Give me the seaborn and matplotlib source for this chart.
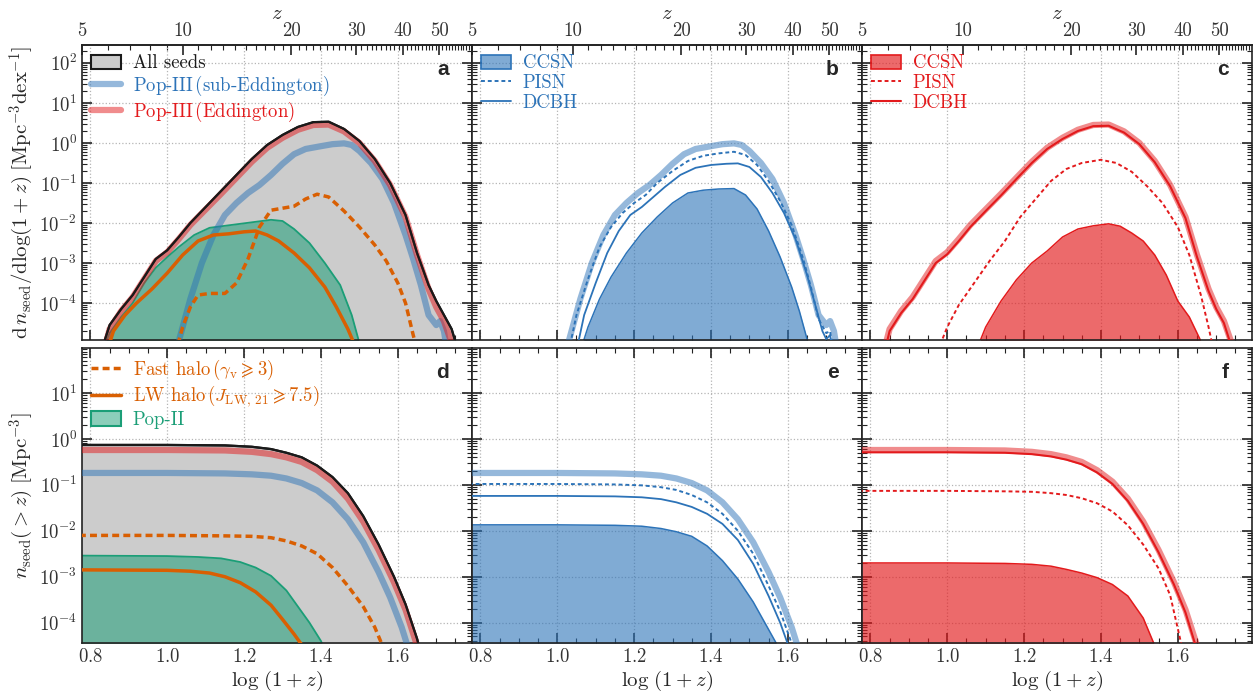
import numpy as np
import matplotlib
matplotlib.use('Agg')
import matplotlib.pyplot as plt
import seaborn as sns
from matplotlib.ticker import FixedLocator, LogLocator, NullFormatter, MultipleLocator
from matplotlib.lines import Line2D
from matplotlib.patches import Patch
from matplotlib.colors import to_rgba

# ---- data: log10 of densities ----
# differential seed density, d n / d log(1+z)
x_tot_dn = [0.835, 0.85, 0.88, 0.91, 0.94, 0.97, 1.00, 1.03, 1.06, 1.10, 1.14, 1.18, 1.22, 1.26, 1.30,
            1.34, 1.38, 1.42, 1.46, 1.50, 1.54, 1.58, 1.62, 1.65, 1.68, 1.70, 1.72, 1.74, 1.76]
all_dn = [-5.0, -4.55, -4.15, -3.8, -3.35, -2.9, -2.68, -2.35, -2.0, -1.6, -1.2, -0.8, -0.4, -0.05, 0.2,
          0.4, 0.52, 0.53, 0.35, 0.05, -0.4, -1.0, -1.8, -2.75, -3.55, -3.95, -4.3, -4.65, -5.3]
edd_dn = [-5.2, -4.65, -4.2, -3.85, -3.4, -2.95, -2.73, -2.4, -2.05, -1.66, -1.27, -0.87, -0.47, -0.12, 0.13,
          0.33, 0.45, 0.46, 0.29, 0.0, -0.45, -1.05, -1.85, -2.8, -3.65, -4.1, -4.45, -5.0, -5.6]
dcbh_red_dn = [-5.3, -4.7, -4.25, -3.9, -3.45, -3.0, -2.78, -2.45, -2.1, -1.7, -1.31, -0.9, -0.5, -0.15, 0.1,
               0.3, 0.42, 0.43, 0.26, -0.03, -0.48, -1.08, -1.88, -2.85, -3.7, -4.15, -4.5, -5.1, -5.7]

x_sub_dn = [1.02, 1.04, 1.06, 1.09, 1.12, 1.15, 1.18, 1.21, 1.24, 1.27, 1.30, 1.33, 1.36, 1.40, 1.43,
            1.46, 1.48, 1.50, 1.53, 1.56, 1.59, 1.62, 1.64, 1.66, 1.68, 1.70, 1.71, 1.72, 1.73]
sub_dn = [-5.3, -4.6, -3.9, -3.0, -2.3, -1.8, -1.5, -1.25, -1.05, -0.8, -0.52, -0.28, -0.15, -0.08, -0.03,
          -0.01, -0.05, -0.2, -0.5, -0.9, -1.5, -2.3, -2.9, -3.55, -4.3, -4.55, -4.45, -4.7, -5.3]

x_pisn_b_dn = [1.03, 1.05, 1.08, 1.11, 1.14, 1.17, 1.20, 1.23, 1.26, 1.30, 1.34, 1.38, 1.42, 1.46, 1.49,
               1.52, 1.55, 1.58, 1.61, 1.64, 1.66, 1.68, 1.70, 1.71, 1.72]
pisn_b_dn = [-5.2, -4.3, -3.4, -2.6, -2.1, -1.75, -1.5, -1.3, -1.0, -0.7, -0.45, -0.32, -0.26, -0.22, -0.3,
             -0.55, -0.95, -1.45, -2.05, -2.9, -3.6, -4.4, -4.75, -4.7, -5.3]

x_dcbh_b_dn = [1.05, 1.07, 1.10, 1.13, 1.16, 1.19, 1.22, 1.25, 1.28, 1.32, 1.36, 1.40, 1.44, 1.47, 1.50,
               1.53, 1.56, 1.59, 1.62, 1.65, 1.67, 1.69, 1.70, 1.71, 1.72]
dcbh_b_dn = [-5.2, -4.3, -3.5, -2.75, -2.2, -1.8, -1.6, -1.35, -1.1, -0.8, -0.62, -0.55, -0.52, -0.51, -0.6,
             -0.85, -1.25, -1.75, -2.4, -3.3, -4.0, -4.7, -4.9, -4.8, -5.4]

x_ccsn_b_dn = [1.06, 1.08, 1.11, 1.14, 1.18, 1.22, 1.26, 1.30, 1.34, 1.38, 1.42, 1.46, 1.49, 1.52, 1.55,
               1.58, 1.61, 1.63, 1.65, 1.66]
ccsn_b_dn = [-5.2, -4.6, -3.9, -3.35, -2.75, -2.25, -1.85, -1.5, -1.25, -1.18, -1.15, -1.14, -1.3, -1.65, -2.2,
             -2.85, -3.6, -4.2, -4.9, -5.4]

x_pisn_r_dn = [0.975, 1.00, 1.03, 1.07, 1.11, 1.15, 1.19, 1.23, 1.27, 1.31, 1.35, 1.40, 1.44, 1.48, 1.52,
               1.56, 1.60, 1.63, 1.66, 1.68, 1.70]
pisn_r_dn = [-5.2, -4.6, -4.05, -3.5, -2.95, -2.45, -1.85, -1.4, -0.95, -0.65, -0.5, -0.42, -0.5, -0.72, -1.08,
             -1.5, -2.1, -2.8, -3.8, -4.6, -5.5]

x_ccsn_r_dn = [1.075, 1.10, 1.14, 1.18, 1.22, 1.26, 1.30, 1.34, 1.38, 1.42, 1.45, 1.48, 1.51, 1.54, 1.57,
               1.60, 1.63, 1.66, 1.68]
ccsn_r_dn = [-5.2, -4.6, -3.95, -3.42, -3.0, -2.7, -2.35, -2.15, -2.07, -2.02, -2.08, -2.25, -2.45, -2.8, -3.3,
             -3.95, -4.35, -4.95, -5.5]

x_pop2_dn = [0.825, 0.85, 0.88, 0.91, 0.94, 0.97, 1.00, 1.03, 1.07, 1.11, 1.15, 1.19, 1.23, 1.27, 1.30,
             1.33, 1.37, 1.41, 1.45, 1.48, 1.50, 1.52]
pop2_dn = [-5.3, -4.75, -4.35, -4.0, -3.5, -3.12, -2.85, -2.6, -2.3, -2.12, -2.07, -2.02, -1.97, -1.92, -1.95,
           -2.15, -2.5, -3.0, -3.55, -4.3, -5.0, -5.6]

x_lw_dn = [0.84, 0.86, 0.89, 0.92, 0.96, 1.00, 1.04, 1.08, 1.12, 1.16, 1.20, 1.23, 1.26, 1.29, 1.33,
           1.37, 1.41, 1.44, 1.47, 1.49, 1.51]
lw_dn = [-5.3, -4.7, -4.3, -4.0, -3.65, -3.25, -2.8, -2.45, -2.3, -2.27, -2.22, -2.2, -2.3, -2.45, -2.75,
         -3.12, -3.6, -4.1, -4.65, -5.1, -5.6]

x_fast_dn = [1.02, 1.04, 1.06, 1.08, 1.11, 1.15, 1.18, 1.21, 1.24, 1.27, 1.30, 1.33, 1.36, 1.39, 1.42,
             1.46, 1.50, 1.54, 1.57, 1.60, 1.62, 1.64, 1.66]
fast_dn = [-5.3, -4.6, -4.1, -3.8, -3.76, -3.76, -3.5, -2.9, -2.1, -1.68, -1.63, -1.58, -1.4, -1.28, -1.35,
           -1.7, -2.1, -2.55, -2.95, -3.5, -4.0, -4.8, -5.5]

# cumulative seed density, n(>z)
x_cum = [0.77, 1.0, 1.15, 1.22, 1.27, 1.31, 1.35, 1.39, 1.43, 1.47, 1.51, 1.55, 1.59, 1.62, 1.65, 1.67]
all_cum = [-0.13, -0.13, -0.14, -0.17, -0.22, -0.3, -0.4, -0.58, -0.83, -1.18, -1.68, -2.3, -3.0, -3.6, -4.35, -5.0]
edd_cum = [-0.24, -0.24, -0.25, -0.28, -0.33, -0.4, -0.5, -0.68, -0.93, -1.3, -1.8, -2.42, -3.12, -3.72, -4.5, -5.1]
dcbh_r_cum = [-0.29, -0.29, -0.3, -0.33, -0.38, -0.45, -0.55, -0.73, -0.98, -1.35, -1.85, -2.47, -3.17, -3.78, -4.6, -5.2]

x_cum_b = [0.77, 1.0, 1.15, 1.22, 1.27, 1.31, 1.35, 1.39, 1.43, 1.47, 1.51, 1.55, 1.58, 1.61, 1.64, 1.66]
sub_cum = [-0.74, -0.74, -0.75, -0.77, -0.8, -0.86, -0.96, -1.12, -1.38, -1.75, -2.25, -2.9, -3.45, -4.1, -4.9, -5.4]
pisn_b_cum = [-0.98, -0.98, -0.99, -1.01, -1.05, -1.11, -1.22, -1.38, -1.63, -2.0, -2.5, -3.2, -3.75, -4.45, -5.2, -5.6]
dcbh_b_cum = [-1.24, -1.24, -1.25, -1.27, -1.31, -1.38, -1.48, -1.63, -1.85, -2.2, -2.72, -3.42, -4.0, -4.7, -5.4, -5.8]

x_ccsn_b_cum = [0.77, 1.0, 1.15, 1.22, 1.27, 1.31, 1.35, 1.39, 1.43, 1.47, 1.51, 1.55, 1.58, 1.61]
ccsn_b_cum = [-1.87, -1.87, -1.88, -1.9, -1.95, -2.02, -2.12, -2.33, -2.65, -3.05, -3.55, -4.15, -4.6, -5.2]

x_pisn_r_cum = [0.77, 1.0, 1.15, 1.22, 1.27, 1.31, 1.35, 1.39, 1.43, 1.47, 1.51, 1.55, 1.58, 1.61, 1.64]
pisn_r_cum = [-1.13, -1.13, -1.14, -1.15, -1.18, -1.22, -1.29, -1.4, -1.58, -1.88, -2.3, -2.82, -3.4, -4.5, -5.5]

x_ccsn_r_cum = [0.77, 1.0, 1.15, 1.22, 1.27, 1.31, 1.35, 1.39, 1.43, 1.47, 1.51, 1.54, 1.57]
ccsn_r_cum = [-2.7, -2.7, -2.71, -2.73, -2.77, -2.84, -2.92, -3.02, -3.17, -3.42, -3.9, -4.5, -5.2]

x_fast_cum = [0.77, 1.0, 1.15, 1.22, 1.27, 1.31, 1.35, 1.39, 1.43, 1.47, 1.51, 1.54, 1.57, 1.6]
fast_cum = [-2.1, -2.1, -2.11, -2.12, -2.15, -2.22, -2.33, -2.5, -2.8, -3.2, -3.65, -4.1, -4.7, -5.4]

x_pop2_cum = [0.77, 1.0, 1.08, 1.14, 1.19, 1.23, 1.27, 1.31, 1.34, 1.37, 1.40, 1.43]
pop2_cum = [-2.54, -2.55, -2.57, -2.6, -2.68, -2.8, -2.98, -3.3, -3.65, -4.0, -4.4, -5.0]

x_lw_cum = [0.77, 1.0, 1.06, 1.11, 1.15, 1.19, 1.23, 1.27, 1.3, 1.33, 1.36, 1.39]
lw_cum = [-2.85, -2.86, -2.88, -2.92, -3.0, -3.13, -3.33, -3.62, -3.93, -4.25, -4.6, -5.1]

z_ticks = [5, 10, 20, 30, 40, 50]
panel_letters = ['a', 'b', 'c', 'd', 'e', 'f']

# ---- style ----
BLUE = '#2c73b8'
RED = '#e31a1c'
ORANGE = '#d95f02'
GREEN = '#1b9e77'
GRAY = '#cccccc'

sns.set_theme(style='ticks')
plt.rcParams.update({
    'font.family': 'serif',
    'font.serif': ['cmr10', 'DejaVu Serif'],
    'mathtext.fontset': 'cm',
    'axes.formatter.use_mathtext': True,
    'axes.unicode_minus': False,
    'font.size': 13.5,
    'axes.linewidth': 1.2,
    'axes.edgecolor': '#222222',
})


def line(ax, x, ylog, **kw):
    sns.lineplot(x=np.asarray(x), y=10.0 ** np.asarray(ylog), ax=ax, legend=False, **kw)


def band(ax, x, ylog, color, alpha, edge, lw, z=1):
    y = 10.0 ** np.asarray(ylog)
    ax.fill_between(x, 1e-9, y, color=color, alpha=alpha, lw=0, zorder=z)
    ax.plot(x, y, color=edge, lw=lw, zorder=z + 0.1)


fig, axes = plt.subplots(2, 3, figsize=(12.56, 6.96), dpi=100, sharex=True, sharey='row')
fig.subplots_adjust(left=0.0653, right=0.9968, top=0.9353, bottom=0.0761, wspace=0, hspace=0.028)

thick = dict(lw=4.5, alpha=0.5, solid_capstyle='butt')

# a
ax = axes[0, 0]
band(ax, x_tot_dn, all_dn, GRAY, 1.0, 'k', 1.6, z=1)
band(ax, x_pop2_dn, pop2_dn, GREEN, 0.55, GREEN, 1.3, z=2)
line(ax, x_sub_dn, sub_dn, color=BLUE, zorder=3, **thick)
line(ax, x_tot_dn, edd_dn, color=RED, zorder=4, **thick)
line(ax, x_tot_dn, all_dn, color='k', lw=1.6, zorder=5)
line(ax, x_fast_dn, fast_dn, color=ORANGE, lw=2.5, linestyle=(0, (2, 1.2)), zorder=6)
line(ax, x_lw_dn, lw_dn, color=ORANGE, lw=2.5, zorder=6)

# b
ax = axes[0, 1]
band(ax, x_ccsn_b_dn, ccsn_b_dn, BLUE, 0.6, BLUE, 1.1)
line(ax, x_sub_dn, sub_dn, color=BLUE, zorder=3, **thick)
line(ax, x_pisn_b_dn, pisn_b_dn, color=BLUE, lw=1.4, linestyle=(0, (2, 1.5)), zorder=4)
line(ax, x_dcbh_b_dn, dcbh_b_dn, color=BLUE, lw=1.3, zorder=4)

# c
ax = axes[0, 2]
band(ax, x_ccsn_r_dn, ccsn_r_dn, RED, 0.65, RED, 1.1)
line(ax, x_tot_dn, edd_dn, color=RED, zorder=3, **thick)
line(ax, x_pisn_r_dn, pisn_r_dn, color=RED, lw=1.4, linestyle=(0, (2, 1.5)), zorder=4)
line(ax, x_tot_dn, dcbh_red_dn, color=RED, lw=1.5, zorder=4)

# d
ax = axes[1, 0]
band(ax, x_cum, all_cum, GRAY, 1.0, 'k', 1.6, z=1)
band(ax, x_pop2_cum, pop2_cum, GREEN, 0.55, GREEN, 1.3, z=2)
line(ax, x_cum_b, sub_cum, color=BLUE, zorder=3, **thick)
line(ax, x_cum, edd_cum, color=RED, zorder=4, **thick)
line(ax, x_cum, all_cum, color='k', lw=1.6, zorder=5)
line(ax, x_fast_cum, fast_cum, color=ORANGE, lw=2.5, linestyle=(0, (2, 1.2)), zorder=6)
line(ax, x_lw_cum, lw_cum, color=ORANGE, lw=2.5, zorder=6)

# e
ax = axes[1, 1]
band(ax, x_ccsn_b_cum, ccsn_b_cum, BLUE, 0.6, BLUE, 1.1)
line(ax, x_cum_b, sub_cum, color=BLUE, zorder=3, **thick)
line(ax, x_cum_b, pisn_b_cum, color=BLUE, lw=1.4, linestyle=(0, (2, 1.5)), zorder=4)
line(ax, x_cum_b, dcbh_b_cum, color=BLUE, lw=1.3, zorder=4)

# f
ax = axes[1, 2]
band(ax, x_ccsn_r_cum, ccsn_r_cum, RED, 0.65, RED, 1.1)
line(ax, x_cum, edd_cum, color=RED, zorder=3, **thick)
line(ax, x_pisn_r_cum, pisn_r_cum, color=RED, lw=1.4, linestyle=(0, (2, 1.5)), zorder=4)
line(ax, x_cum, dcbh_r_cum, color=RED, lw=1.5, zorder=4)

# ---- axes cosmetics ----
for i, ax in enumerate(axes.flat):
    row = i // 3
    ax.set_yscale('log')
    ax.set_xlim(np.log10(6), 1.793)
    ax.xaxis.set_major_locator(MultipleLocator(0.2))
    ax.xaxis.set_minor_locator(MultipleLocator(0.05))
    ax.yaxis.set_major_locator(LogLocator(base=10, numticks=20))
    ax.yaxis.set_minor_locator(LogLocator(base=10, subs=np.arange(2, 10), numticks=20))
    ax.yaxis.set_minor_formatter(NullFormatter())
    ax.grid(True, which='major', color='#b5b5b5', ls=':', lw=0.9)
    ax.tick_params(which='both', direction='in', right=True, top=(row == 1), labelsize=13.5,
                   colors='#222222', labelcolor='#333333')
    ax.tick_params(which='major', length=7, width=1.2)
    ax.tick_params(which='minor', length=3.5, width=0.8)
    ax.text(0.94, 0.95, panel_letters[i], transform=ax.transAxes, ha='right', va='top',
            fontsize=15, fontweight='bold', family='Liberation Sans', zorder=10)
    ax.set_xlabel('')
    ax.set_ylabel('')
    if row == 0:
        sec = ax.secondary_xaxis('top', functions=(lambda x: 10 ** x - 1,
                                                   lambda z: np.log10(np.clip(1 + z, 1e-3, None))))
        sec.xaxis.set_major_locator(FixedLocator(z_ticks))
        sec.xaxis.set_minor_locator(FixedLocator([k for k in range(6, 61) if k not in z_ticks]))
        sec.set_xticklabels([str(z) for z in z_ticks])
        sec.tick_params(which='both', direction='in', labelsize=13.5, colors='#222222', labelcolor='#333333')
        sec.tick_params(which='major', length=7, width=1.2)
        sec.tick_params(which='minor', length=3.5, width=0.8)
        sec.set_xlabel('$z$', fontsize=15, labelpad=2)
    else:
        ax.set_xlabel(r'$\log\,(1+z)$', fontsize=15, labelpad=2)

axes[0, 0].set_ylim(1.2e-5, 2.8e2)
axes[1, 0].set_ylim(3.6e-5, 9.5e1)
axes[0, 0].set_ylabel(r'$\mathrm{d}\,n_{\rm seed}/\mathrm{d}\log(1+z)\;[\mathrm{Mpc}^{-3}\mathrm{dex}^{-1}]$',
                      fontsize=15, labelpad=2)
axes[1, 0].set_ylabel(r'$n_{\rm seed}(>z)\;[\mathrm{Mpc}^{-3}]$', fontsize=15, labelpad=2)

# ---- legends ----
leg_kw = dict(loc='upper left', frameon=False, fontsize=13.5, handlelength=1.6, handleheight=0.8,
              handletextpad=0.6, labelspacing=0.1, borderaxespad=0.3, borderpad=0.2)


def legend(ax, handles, labels, colors):
    lg = ax.legend(handles, labels, **leg_kw)
    for t, c in zip(lg.get_texts(), colors):
        t.set_color(c)
    lg.set_zorder(10)


legend(axes[0, 0],
       [Patch(facecolor=GRAY, edgecolor='k', lw=1.5),
        Line2D([], [], color=BLUE, alpha=0.5, lw=4.5),
        Line2D([], [], color=RED, alpha=0.5, lw=4.5)],
       ['All seeds', r'Pop-III$\,$(sub-Eddington)', r'Pop-III$\,$(Eddington)'],
       ['k', BLUE, RED])
legend(axes[0, 1],
       [Patch(facecolor=to_rgba(BLUE, 0.6), edgecolor=BLUE, lw=1.2),
        Line2D([], [], color=BLUE, lw=1.4, ls=(0, (2, 1.5))),
        Line2D([], [], color=BLUE, lw=1.3)],
       ['CCSN', 'PISN', 'DCBH'], [BLUE] * 3)
legend(axes[0, 2],
       [Patch(facecolor=to_rgba(RED, 0.65), edgecolor=RED, lw=1.2),
        Line2D([], [], color=RED, lw=1.4, ls=(0, (2, 1.5))),
        Line2D([], [], color=RED, lw=1.5)],
       ['CCSN', 'PISN', 'DCBH'], [RED] * 3)
legend(axes[1, 0],
       [Line2D([], [], color=ORANGE, lw=2.5, ls=(0, (2, 1.2))),
        Line2D([], [], color=ORANGE, lw=2.5),
        Patch(facecolor=to_rgba(GREEN, 0.5), edgecolor=GREEN, lw=1.5)],
       [r'Fast halo$\,(\gamma_{\rm v}\geqslant 3)$', r'LW halo$\,(J_{\rm LW,\,21}\geqslant 7.5)$', 'Pop-II'],
       [ORANGE, ORANGE, GREEN])

fig.savefig('out.png', dpi=100)
